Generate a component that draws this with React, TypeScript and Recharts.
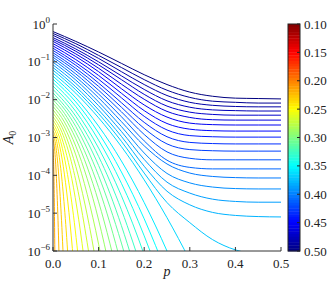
import React from "react";
import { LineChart, Line, XAxis, YAxis } from "recharts";

const serif = "'Liberation Serif', 'DejaVu Serif', serif";

// p values shared by the curves that level off
const pGrid = [0, 0.05, 0.1, 0.15, 0.2, 0.25, 0.3, 0.35, 0.4, 0.45, 0.5];

// log10(A0) on pGrid, q = 0.50 and downwards
const plateauCurves = [
  [-0.2, -0.46, -0.74, -1.04, -1.34, -1.6, -1.8, -1.91, -1.96, -1.97, -1.98],
  [-0.25, -0.52, -0.83, -1.15, -1.47, -1.75, -1.94, -2.04, -2.07, -2.09, -2.09],
  [-0.3, -0.59, -0.91, -1.26, -1.6, -1.89, -2.07, -2.15, -2.18, -2.19, -2.19],
  [-0.36, -0.66, -1.0, -1.37, -1.73, -2.03, -2.2, -2.27, -2.29, -2.3, -2.3],
  [-0.41, -0.72, -1.08, -1.47, -1.86, -2.17, -2.33, -2.39, -2.41, -2.41, -2.41],
  [-0.46, -0.79, -1.17, -1.59, -1.99, -2.31, -2.47, -2.53, -2.54, -2.54, -2.54],
  [-0.52, -0.86, -1.26, -1.71, -2.14, -2.46, -2.62, -2.66, -2.67, -2.67, -2.67],
  [-0.58, -0.94, -1.36, -1.83, -2.29, -2.63, -2.78, -2.82, -2.83, -2.83, -2.83],
  [-0.64, -1.02, -1.46, -1.95, -2.44, -2.8, -2.95, -2.98, -2.99, -2.99, -2.99],
  [-0.7, -1.09, -1.56, -2.08, -2.6, -2.98, -3.13, -3.16, -3.17, -3.17, -3.17],
  [-0.76, -1.17, -1.65, -2.2, -2.76, -3.17, -3.32, -3.35, -3.36, -3.36, -3.36],
  [-0.82, -1.24, -1.75, -2.32, -2.92, -3.38, -3.55, -3.59, -3.59, -3.59, -3.59],
  [-0.88, -1.32, -1.85, -2.45, -3.09, -3.6, -3.79, -3.83, -3.83, -3.83, -3.83],
  [-0.94, -1.4, -1.95, -2.58, -3.22, -3.7, -3.94, -4.03, -4.06, -4.07, -4.07],
  [-1.01, -1.48, -2.06, -2.71, -3.41, -3.95, -4.2, -4.31, -4.35, -4.36, -4.36],
  [-1.08, -1.57, -2.16, -2.84, -3.58, -4.18, -4.47, -4.63, -4.69, -4.71, -4.71],
  [-1.15, -1.66, -2.27, -2.97, -3.76, -4.42, -4.78, -4.98, -5.06, -5.09, -5.1],
  [-1.22, -1.74, -2.37, -3.1, -3.94, -4.72, -5.25, -5.7, -5.97, -6.08, -6.1],
];

// curves that drop out through the bottom: own p samples and log10(A0)
const fallingP = [
  [0, 0.05, 0.1, 0.15, 0.2, 0.25, 0.3],
  [0, 0.05, 0.1, 0.15, 0.2, 0.25, 0.3],
  [0, 0.05, 0.1, 0.15, 0.2, 0.25],
  [0, 0.05, 0.1, 0.15, 0.2, 0.25],
  [0, 0.05, 0.1, 0.15, 0.2, 0.25],
  [0, 0.05, 0.1, 0.15, 0.2],
  [0, 0.05, 0.1, 0.15, 0.175, 0.2],
  [0, 0.025, 0.05, 0.075, 0.1, 0.125, 0.15, 0.175],
  [0, 0.025, 0.05, 0.075, 0.1, 0.125, 0.15],
  [0, 0.025, 0.05, 0.075, 0.1, 0.125, 0.15],
  [0, 0.025, 0.05, 0.075, 0.1, 0.125],
  [0, 0.025, 0.05, 0.075, 0.1, 0.12],
  [0, 0.02, 0.04, 0.06, 0.08, 0.1],
  [0, 0.02, 0.04, 0.06, 0.08],
  [0, 0.015, 0.03, 0.045, 0.06, 0.075],
  [0, 0.015, 0.03, 0.045, 0.06],
  [0, 0.01, 0.02, 0.03, 0.04, 0.05],
  [0, 0.008, 0.016, 0.024, 0.032, 0.04],
  [0, 0.006, 0.012, 0.018, 0.024],
  [0, 0.004, 0.008, 0.012, 0.016],
  [0, 0.002, 0.004, 0.005],
];
const fallingLogA = [
  [-1.3, -1.83, -2.48, -3.24, -4.12, -5.12, -6.24],
  [-1.38, -1.95, -2.7, -3.62, -4.72, -6.0, -7.45],
  [-1.46, -2.06, -2.88, -3.91, -5.15, -6.61],
  [-1.55, -2.18, -3.07, -4.21, -5.6, -7.24],
  [-1.64, -2.31, -3.28, -4.54, -6.1, -7.96],
  [-1.73, -2.44, -3.5, -4.91, -6.68],
  [-1.82, -2.57, -3.74, -5.33, -6.28, -7.33],
  [-1.91, -2.25, -2.71, -3.3, -4.01, -4.84, -5.79, -6.87],
  [-2.0, -2.36, -2.87, -3.52, -4.32, -5.27, -6.37],
  [-2.09, -2.47, -3.03, -3.78, -4.7, -5.81, -7.09],
  [-2.18, -2.59, -3.23, -4.09, -5.18, -6.5],
  [-2.27, -2.72, -3.46, -4.5, -5.82, -7.09],
  [-2.36, -2.73, -3.36, -4.23, -5.35, -6.72],
  [-2.45, -2.87, -3.63, -4.73, -6.16],
  [-2.54, -2.87, -3.47, -4.33, -5.47, -6.88],
  [-2.63, -3.03, -3.85, -5.07, -6.7],
  [-2.72, -3.0, -3.57, -4.44, -5.6, -7.05],
  [-2.82, -3.1, -3.72, -4.69, -6.0, -7.65],
  [-2.92, -3.21, -3.91, -5.03, -6.56],
  [-3.05, -3.37, -4.21, -5.58, -7.47],
  [-3.3, -3.99, -6.0, -7.5],
];

const xTicks = [0, 0.1, 0.2, 0.3, 0.4, 0.5];
const yTicks = [-6, -5, -4, -3, -2, -1, 0];
const barTicks = ["0.10", "0.15", "0.20", "0.25", "0.30", "0.35", "0.40", "0.45", "0.50"];

const qTop = 0.5;
const qStep = 0.0075;

const jet = (t: number) => {
  const c = (v: number) => Math.round(255 * Math.max(0, Math.min(1, v)));
  return `rgb(${c(1.5 - Math.abs(4 * t - 3))},${c(1.5 - Math.abs(4 * t - 2))},${c(1.5 - Math.abs(4 * t - 1))})`;
};
const qColor = (q: number) => jet((0.5 - q) / 0.4);

const curves = [
  ...plateauCurves.map((row) => row.map((v, k) => ({ p: pGrid[k], v }))),
  ...fallingLogA.map((row, j) => row.map((v, k) => ({ p: fallingP[j][k], v }))),
];

const PowTick = (props: any) => {
  const { x, y, payload } = props;
  const v = payload.value;
  return (
    <text x={x} y={y} dy={4.5} textAnchor="end" fontFamily={serif} fontSize={13} fill="#222">
      10
      <tspan dy={-6} fontSize={9}>
        {v === 0 ? "0" : "\u2212" + Math.abs(v)}
      </tspan>
    </text>
  );
};

// plot box
const L = 53, T = 24, R = 281, B = 251;

const ColorBar = () => {
  const x0 = 288, w = 12;
  const n = 80;
  const h = (B - T) / n;
  return (
    <svg width={330} height={300} style={{ position: "absolute", left: 0, top: 0, pointerEvents: "none" }}>
      {Array.from({ length: n }, (_, k) => (
        <rect key={k} x={x0} y={T + k * h} width={w} height={h + 0.4} fill={qColor(0.1 + (k + 0.5) * 0.005)} />
      ))}
      <rect x={x0} y={T} width={w} height={B - T} fill="none" stroke="#222" strokeWidth={1} />
      {barTicks.map((s, k) => {
        const y = T + (k * (B - T)) / (barTicks.length - 1);
        return (
          <g key={s}>
            <line x1={x0 + w - 3} x2={x0 + w} y1={y} y2={y} stroke="#222" />
            <text x={304} y={y} dy={4.5} fontFamily={serif} fontSize={13} fill="#222">
              {s}
            </text>
          </g>
        );
      })}
      <text transform={`translate(13, ${(T + B) / 2}) rotate(-90)`} textAnchor="middle" fontFamily={serif} fontSize={14} fill="#222">
        <tspan fontStyle="italic">A</tspan>
        <tspan dy={3} fontSize={10}>0</tspan>
      </text>
      <text x={(L + R) / 2} y={276} textAnchor="middle" fontFamily={serif} fontStyle="italic" fontSize={14} fill="#222">
        p
      </text>
    </svg>
  );
};

export default function App() {
  return (
    <div style={{ position: "absolute", left: 0, top: 0, width: 330, height: 300, background: "#fff" }}>
      <LineChart width={330} height={300} margin={{ top: T, right: 330 - R, bottom: 0, left: 0 }}>
        <XAxis
          xAxisId="b"
          type="number"
          dataKey="p"
          domain={[0, 0.5]}
          ticks={xTicks}
          allowDataOverflow
          height={300 - B}
          tickSize={-4}
          tickMargin={12}
          stroke="#333"
          tickFormatter={(v: number) => v.toFixed(1)}
          tick={{ fill: "#222", fontSize: 13, fontFamily: serif }}
        />
        <XAxis
          xAxisId="t"
          orientation="top"
          type="number"
          dataKey="p"
          domain={[0, 0.5]}
          ticks={xTicks}
          allowDataOverflow
          height={0}
          tickSize={-4}
          tick={false}
          stroke="#333"
        />
        <YAxis
          yAxisId="l"
          type="number"
          domain={[-6, 0]}
          ticks={yTicks}
          allowDataOverflow
          width={L}
          tickSize={-4}
          tickMargin={7}
          stroke="#333"
          tick={<PowTick />}
        />
        <YAxis
          yAxisId="r"
          orientation="right"
          type="number"
          domain={[-6, 0]}
          ticks={yTicks}
          allowDataOverflow
          width={0}
          tickSize={-4}
          tick={false}
          stroke="#333"
        />
        {curves.map((pts, i) => (
          <Line
            key={i}
            xAxisId="b"
            yAxisId="l"
            data={pts}
            dataKey="v"
            type="monotone"
            stroke={qColor(qTop - i * qStep)}
            strokeWidth={1}
            dot={false}
            activeDot={false}
            isAnimationActive={false}
          />
        ))}
      </LineChart>
      <ColorBar />
    </div>
  );
}
